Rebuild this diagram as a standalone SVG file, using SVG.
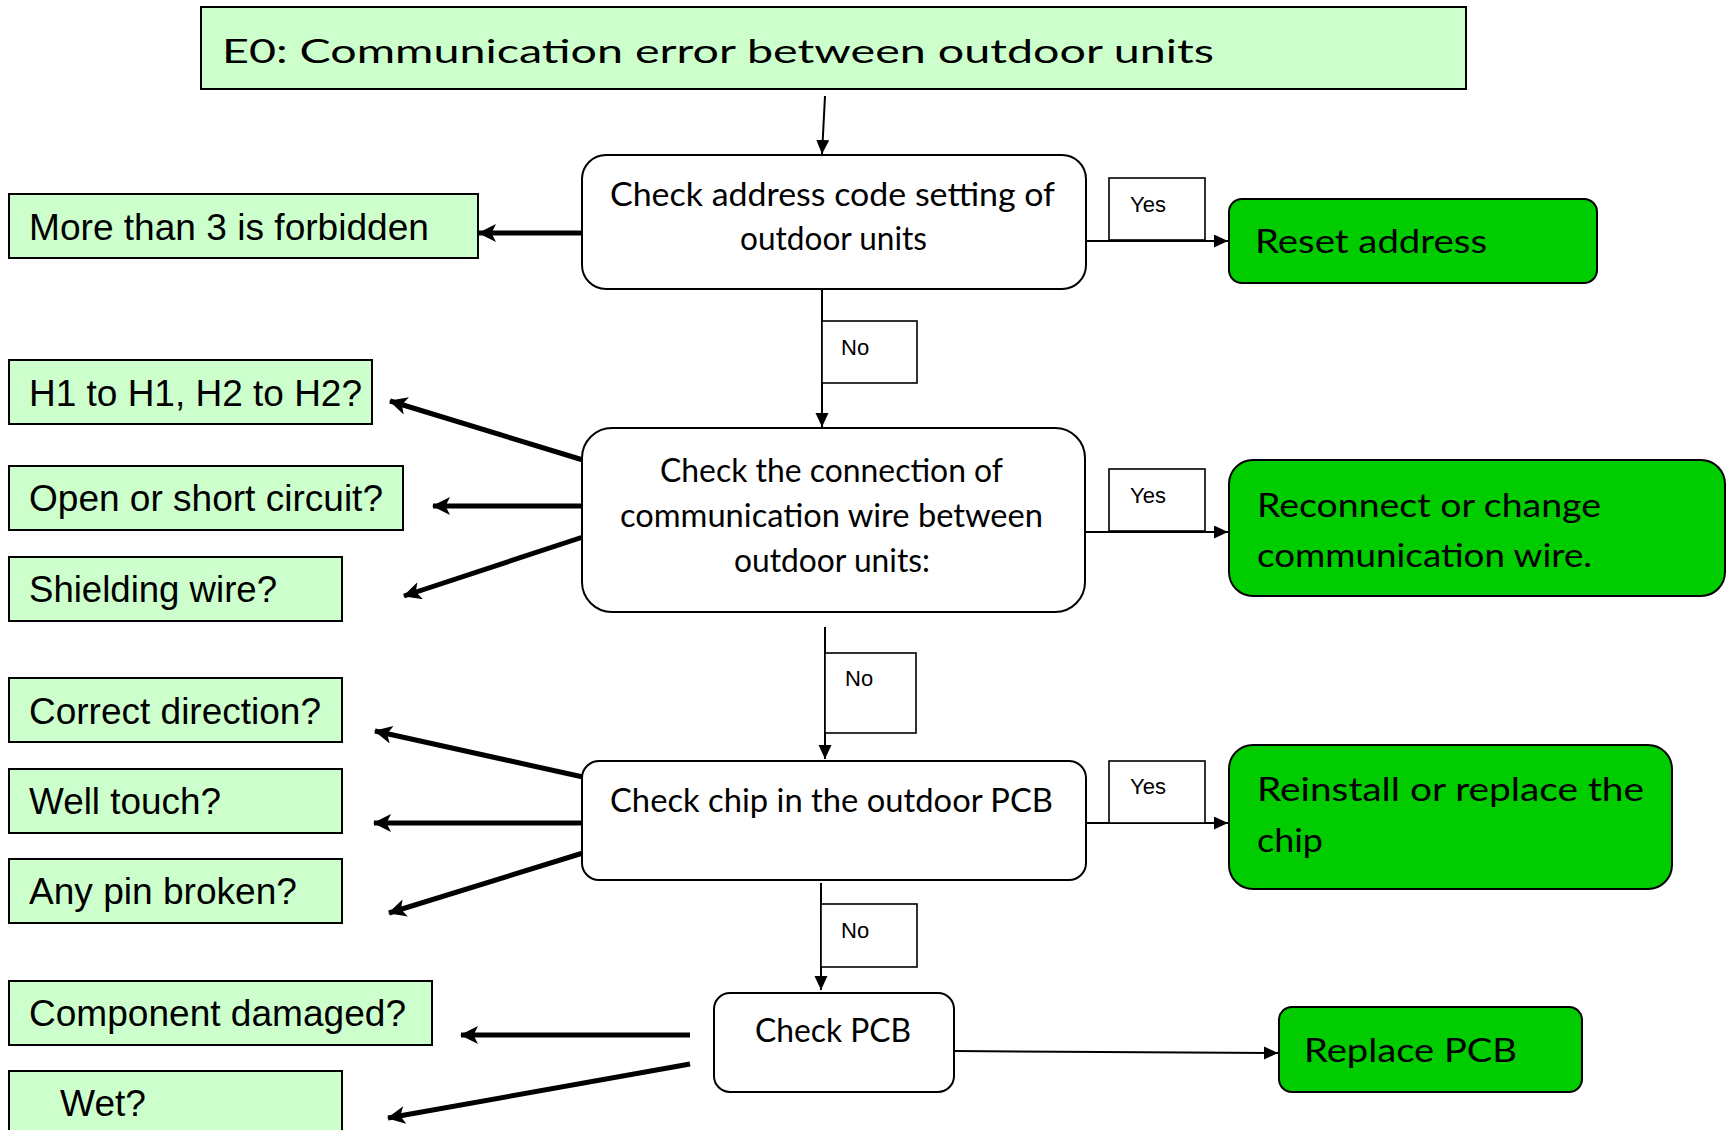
<svg xmlns="http://www.w3.org/2000/svg" width="1732" height="1130" viewBox="0 0 1732 1130">
<style>
.lg{fill:#CCFFCC;stroke:#000;stroke-width:2}
.dg{fill:#00CC00;stroke:#000;stroke-width:2}
.wb{fill:#fff;stroke:#000;stroke-width:2}
.lb{fill:#fff;stroke:#000;stroke-width:1.6}
.ar{font-family:"Liberation Sans",Arial,sans-serif;font-size:36px;fill:#000}
.gt{font-family:Lato,"Open Sans",sans-serif;font-size:32px;fill:#000}
.sm{font-family:"Liberation Sans",Arial,sans-serif;font-size:22px;fill:#000}
.thick{stroke:#000;stroke-width:5;fill:none;marker-end:url(#hb)}
.thin{stroke:#000;stroke-width:2;fill:none;marker-end:url(#ht)}
</style>
<defs>
<marker id="hb" markerUnits="userSpaceOnUse" markerWidth="22" markerHeight="20" refX="17" refY="9" orient="auto">
<path d="M0,0 L18,9 L0,18 L4.5,9 z" fill="#000"/>
</marker>
<marker id="ht" markerUnits="userSpaceOnUse" markerWidth="16" markerHeight="14" refX="14" refY="6.5" orient="auto">
<path d="M0,0 L14,6.5 L0,13 z" fill="#000"/>
</marker>
</defs>
<rect width="1732" height="1130" fill="#fff"/>

<g id="connectors">
<line class="thin" x1="825" y1="96" x2="822" y2="154"/>
<line class="thick" x1="583" y1="233" x2="479" y2="233"/>
<line class="thin" x1="1086" y1="241" x2="1228" y2="241"/>
<line class="thin" x1="822" y1="289" x2="822" y2="427"/>
<line class="thick" x1="583" y1="460" x2="390" y2="401"/>
<line class="thick" x1="583" y1="506" x2="433" y2="506"/>
<line class="thick" x1="583" y1="537" x2="404" y2="596"/>
<line class="thin" x1="1086" y1="532" x2="1228" y2="532"/>
<line class="thin" x1="825" y1="627" x2="825" y2="759"/>
<line class="thick" x1="583" y1="777" x2="375" y2="731"/>
<line class="thick" x1="583" y1="823" x2="374" y2="823"/>
<line class="thick" x1="583" y1="853" x2="389" y2="913"/>
<line class="thin" x1="1086" y1="823" x2="1228" y2="823"/>
<line class="thin" x1="821" y1="883" x2="821" y2="990"/>
<line class="thick" x1="690" y1="1035" x2="461" y2="1035"/>
<line class="thick" x1="690" y1="1064" x2="388" y2="1118"/>
<line class="thin" x1="954" y1="1051" x2="1278" y2="1053"/>
</g>

<g id="title">
<rect class="lg" x="201" y="7" width="1265" height="82"/>
<text class="gt" x="222" y="63" font-size="43" textLength="992" lengthAdjust="spacingAndGlyphs">E0: Communication error between outdoor units</text>
</g>

<g id="check-address">
<rect class="wb" x="582" y="155" width="504" height="134" rx="24"/>
<text class="gt" x="610" y="206" textLength="445" lengthAdjust="spacingAndGlyphs">Check address code setting of</text>
<text class="gt" x="740" y="250" textLength="187" lengthAdjust="spacingAndGlyphs">outdoor units</text>
</g>

<g id="more-than-3">
<rect class="lg" x="9" y="194" width="469" height="64"/>
<text class="ar" x="29" y="240" textLength="400" lengthAdjust="spacingAndGlyphs">More than 3 is forbidden</text>
</g>

<g id="yes1">
<rect class="lb" x="1109" y="178" width="96" height="62"/>
<text class="sm" x="1130" y="212">Yes</text>
</g>

<g id="reset-address">
<rect class="dg" x="1229" y="199" width="368" height="84" rx="13"/>
<text class="gt" x="1255" y="253" font-size="36" textLength="232" lengthAdjust="spacingAndGlyphs">Reset address</text>
</g>

<g id="no1">
<rect class="lb" x="822" y="321" width="95" height="62"/>
<text class="sm" x="841" y="355">No</text>
</g>

<g id="check-connection">
<rect class="wb" x="582" y="428" width="503" height="184" rx="30"/>
<text class="gt" x="660" y="482" textLength="343" lengthAdjust="spacingAndGlyphs">Check the connection of</text>
<text class="gt" x="620" y="527" textLength="423" lengthAdjust="spacingAndGlyphs">communication wire between</text>
<text class="gt" x="734" y="572" textLength="196" lengthAdjust="spacingAndGlyphs">outdoor units:</text>
</g>

<g id="h1-h2">
<rect class="lg" x="9" y="360" width="363" height="64"/>
<text class="ar" x="29" y="406" textLength="333" lengthAdjust="spacingAndGlyphs">H1 to H1, H2 to H2?</text>
</g>

<g id="open-short">
<rect class="lg" x="9" y="466" width="394" height="64"/>
<text class="ar" x="29" y="511" textLength="354" lengthAdjust="spacingAndGlyphs">Open or short circuit?</text>
</g>

<g id="shielding">
<rect class="lg" x="9" y="557" width="333" height="64"/>
<text class="ar" x="29" y="602" textLength="248" lengthAdjust="spacingAndGlyphs">Shielding wire?</text>
</g>

<g id="yes2">
<rect class="lb" x="1109" y="469" width="96" height="62"/>
<text class="sm" x="1130" y="503">Yes</text>
</g>

<g id="reconnect">
<rect class="dg" x="1229" y="460" width="496" height="136" rx="24"/>
<text class="gt" x="1257" y="517" font-size="36" textLength="344" lengthAdjust="spacingAndGlyphs">Reconnect or change</text>
<text class="gt" x="1257" y="567" font-size="36" textLength="335" lengthAdjust="spacingAndGlyphs">communication wire.</text>
</g>

<g id="no2">
<rect class="lb" x="825" y="653" width="91" height="80"/>
<text class="sm" x="845" y="686">No</text>
</g>

<g id="check-chip">
<rect class="wb" x="582" y="761" width="504" height="119" rx="17"/>
<text class="gt" x="610" y="812" textLength="443" lengthAdjust="spacingAndGlyphs">Check chip in the outdoor PCB</text>
</g>

<g id="correct-direction">
<rect class="lg" x="9" y="678" width="333" height="64"/>
<text class="ar" x="29" y="724" textLength="292" lengthAdjust="spacingAndGlyphs">Correct direction?</text>
</g>

<g id="well-touch">
<rect class="lg" x="9" y="769" width="333" height="64"/>
<text class="ar" x="29" y="814" textLength="192" lengthAdjust="spacingAndGlyphs">Well touch?</text>
</g>

<g id="any-pin">
<rect class="lg" x="9" y="859" width="333" height="64"/>
<text class="ar" x="29" y="904" textLength="268" lengthAdjust="spacingAndGlyphs">Any pin broken?</text>
</g>

<g id="yes3">
<rect class="lb" x="1109" y="761" width="96" height="62"/>
<text class="sm" x="1130" y="794">Yes</text>
</g>

<g id="reinstall">
<rect class="dg" x="1229" y="745" width="443" height="144" rx="24"/>
<text class="gt" x="1257" y="801" font-size="36" textLength="387" lengthAdjust="spacingAndGlyphs">Reinstall or replace the</text>
<text class="gt" x="1257" y="852" font-size="36" textLength="66" lengthAdjust="spacingAndGlyphs">chip</text>
</g>

<g id="no3">
<rect class="lb" x="821" y="904" width="96" height="63"/>
<text class="sm" x="841" y="938">No</text>
</g>

<g id="check-pcb">
<rect class="wb" x="714" y="993" width="240" height="99" rx="16"/>
<text class="gt" x="755" y="1042" textLength="156" lengthAdjust="spacingAndGlyphs">Check PCB</text>
</g>

<g id="component-damaged">
<rect class="lg" x="9" y="981" width="423" height="64"/>
<text class="ar" x="29" y="1026" textLength="377" lengthAdjust="spacingAndGlyphs">Component damaged?</text>
</g>

<g id="wet">
<rect class="lg" x="9" y="1071" width="333" height="70"/>
<text class="ar" x="60" y="1116" textLength="86" lengthAdjust="spacingAndGlyphs">Wet?</text>
</g>

<g id="replace-pcb">
<rect class="dg" x="1279" y="1007" width="303" height="85" rx="13"/>
<text class="gt" x="1304" y="1062" font-size="36" textLength="213" lengthAdjust="spacingAndGlyphs">Replace PCB</text>
</g>
</svg>
